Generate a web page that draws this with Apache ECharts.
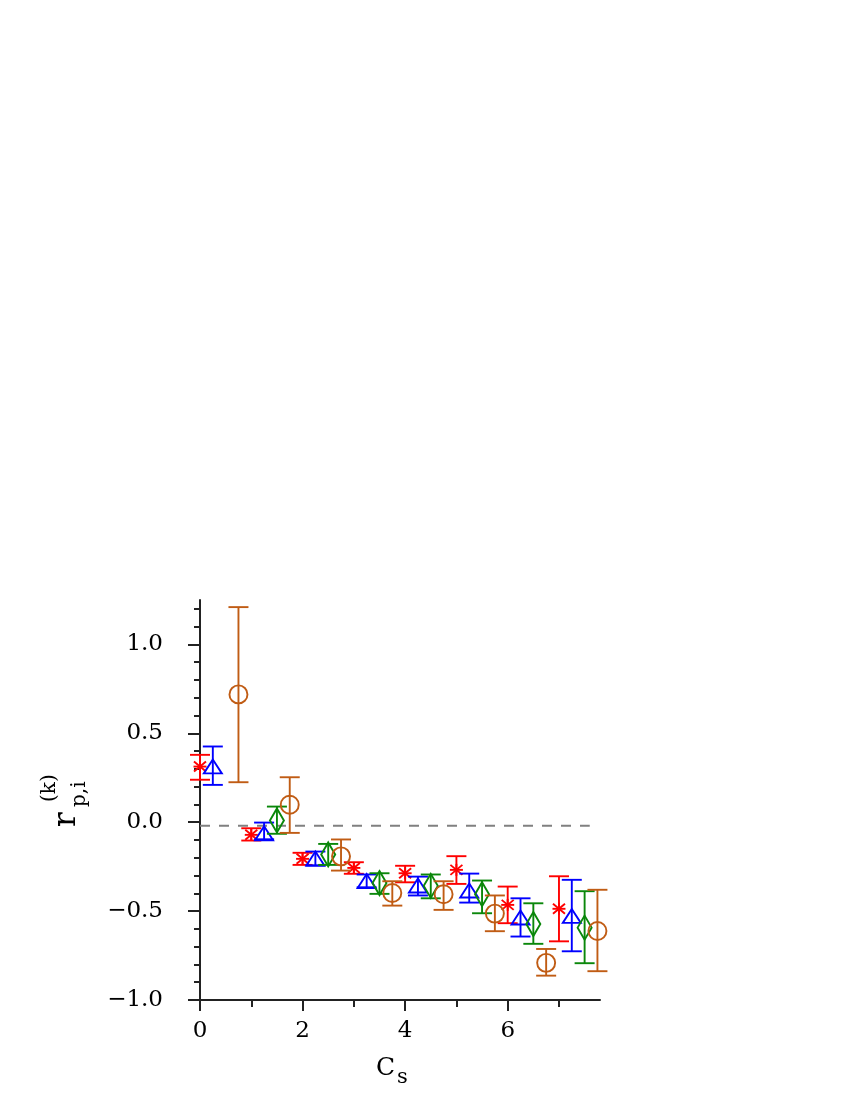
<!DOCTYPE html>
<html>
<head>
<meta charset="utf-8">
<script src="https://cdn.jsdelivr.net/npm/echarts@6/dist/echarts.min.js"></script>
<style>
html,body{margin:0;padding:0;background:#fff;}
#chart{width:850px;height:1100px;}
</style>
</head>
<body>
<div id="chart"></div>
<script>
// ---- data ----
var redX   = [0, 1, 2, 3, 4, 5, 6, 7];
var redY   = [0.313, -0.071, -0.206, -0.257, -0.287, -0.268, -0.465, -0.487];
var redHi  = [0.379, -0.034, -0.172, -0.225, -0.245, -0.191, -0.362, -0.304];
var redLo  = [0.239, -0.103, -0.240, -0.290, -0.338, -0.347, -0.568, -0.670];

var blueX  = [0.25, 1.25, 2.25, 3.25, 4.25, 5.25, 6.25, 7.25];
var blueY  = [0.314, -0.062, -0.204, -0.331, -0.356, -0.384, -0.536, -0.527];
var blueHi = [0.426, -0.002, -0.165, -0.294, -0.306, -0.289, -0.428, -0.324];
var blueLo = [0.210, -0.096, -0.244, -0.366, -0.412, -0.452, -0.643, -0.726];

var greenX  = [1.5, 2.5, 3.5, 4.5, 5.5, 6.5, 7.5];
var greenY  = [0.010, -0.181, -0.342, -0.358, -0.405, -0.573, -0.593];
var greenHi = [0.088, -0.122, -0.287, -0.294, -0.328, -0.456, -0.388];
var greenLo = [-0.065, -0.240, -0.403, -0.428, -0.512, -0.684, -0.793];

var brownX  = [0.75, 1.75, 2.75, 3.75, 4.75, 5.75, 6.75, 7.75];
var brownY  = [0.719, 0.098, -0.192, -0.398, -0.405, -0.514, -0.791, -0.612];
var brownHi = [1.210, 0.253, -0.097, -0.332, -0.332, -0.412, -0.713, -0.380];
var brownLo = [0.225, -0.060, -0.272, -0.469, -0.493, -0.613, -0.863, -0.838];

var refLineX = [0, 7.6];
var refLineY = [-0.02, -0.02];

var xMajorTicks = [0, 2, 4, 6];
var xMinorTicks = [1, 3, 5, 7];
var yMajorTicks = [-1.0, -0.5, 0.0, 0.5, 1.0];
var yMinorTicks = [-0.9, -0.8, -0.7, -0.6, -0.4, -0.3, -0.2, -0.1, 0.1, 0.2, 0.3, 0.4, 0.6, 0.7, 0.8, 0.9, 1.1, 1.2];

// ---- styling ----
var FONT = 'DejaVu Serif';
var AX = '#222';
var TXT = '#000';
var COLORS = { red: '#ff0000', blue: '#0000ff', green: '#0a870a', brown: '#c05c14' };

function rows(xs, ys, lo, hi) {
  return xs.map(function (x, i) { return [x, ys[i], lo[i], hi[i]]; });
}

function makeRender(shape, color) {
  return function (params, api) {
    var x = api.value(0), y = api.value(1), lo = api.value(2), hi = api.value(3);
    var c = api.coord([x, y]);
    var pl = api.coord([x, lo]);
    var ph = api.coord([x, hi]);
    var cap = 10;
    var st = { stroke: color, lineWidth: 1.9, fill: null };
    var kids = [
      { type: 'line', shape: { x1: ph[0], y1: ph[1], x2: pl[0], y2: pl[1] }, style: st },
      { type: 'line', shape: { x1: ph[0] - cap, y1: ph[1], x2: ph[0] + cap, y2: ph[1] }, style: st },
      { type: 'line', shape: { x1: pl[0] - cap, y1: pl[1], x2: pl[0] + cap, y2: pl[1] }, style: st }
    ];
    var cx = c[0], cy = c[1];
    if (shape === 'circle') {
      kids.push({ type: 'circle', shape: { cx: cx, cy: cy, r: 9 }, style: st });
    } else if (shape === 'triangle') {
      kids.push({ type: 'polygon', shape: { points: [[cx, cy - 7], [cx + 9, cy + 7], [cx - 9, cy + 7]] }, style: st });
    } else if (shape === 'diamond') {
      kids.push({ type: 'polygon', shape: { points: [[cx, cy - 12], [cx + 7, cy], [cx, cy + 12], [cx - 7, cy]] }, style: st });
    } else {
      kids.push({ type: 'line', shape: { x1: cx - 6.5, y1: cy, x2: cx + 6.5, y2: cy }, style: st });
      kids.push({ type: 'line', shape: { x1: cx - 6, y1: cy - 5, x2: cx + 6, y2: cy + 5 }, style: st });
      kids.push({ type: 'line', shape: { x1: cx - 6, y1: cy + 5, x2: cx + 6, y2: cy - 5 }, style: st });
      kids.push({ type: 'line', shape: { x1: cx, y1: cy - 6, x2: cx, y2: cy + 6 }, style: st });
    }
    return { type: 'group', children: kids };
  };
}

function fmt(v) {
  var s = Math.abs(v).toFixed(1);
  return (v < -1e-9 ? '\u2212' : '') + s;
}
function fmtInt(v) { return String(Math.round(v)); }

var chart = echarts.init(document.getElementById('chart'), null, { renderer: 'canvas' });

var option = {
  backgroundColor: '#ffffff',
  animation: false,
  grid: { left: 200, top: 600, width: 400, height: 400, containLabel: false },
  xAxis: [
    {
      type: 'value', min: 0, max: 7.8, position: 'bottom',
      axisLine: { show: true, onZero: false, lineStyle: { color: AX, width: 2 } },
      axisTick: { show: true, customValues: xMajorTicks, length: 11, inside: false, lineStyle: { color: AX, width: 2 } },
      axisLabel: { show: true, customValues: xMajorTicks, fontFamily: FONT, fontSize: 23, color: TXT, margin: 20, formatter: fmtInt },
      splitLine: { show: false }
    },
    {
      type: 'value', min: 0, max: 7.8, position: 'bottom', offset: 0,
      axisLine: { show: false, onZero: false },
      axisTick: { show: true, customValues: xMinorTicks, length: 7, inside: false, lineStyle: { color: AX, width: 2 } },
      axisLabel: { show: false },
      splitLine: { show: false }
    }
  ],
  yAxis: [
    {
      type: 'value', min: -1, max: 1.25, position: 'left',
      axisLine: { show: true, onZero: false, lineStyle: { color: AX, width: 2 } },
      axisTick: { show: true, customValues: yMajorTicks, length: 12, inside: false, lineStyle: { color: AX, width: 2 } },
      axisLabel: { show: true, customValues: yMajorTicks, fontFamily: FONT, fontSize: 23, color: TXT, margin: 37, formatter: fmt },
      splitLine: { show: false }
    },
    {
      type: 'value', min: -1, max: 1.25, position: 'left', offset: 0,
      axisLine: { show: false, onZero: false },
      axisTick: { show: true, customValues: yMinorTicks, length: 6, inside: false, lineStyle: { color: AX, width: 2 } },
      axisLabel: { show: false },
      splitLine: { show: false }
    }
  ],
  graphic: [
    { type: 'text', x: 376, y: 1068, style: { text: 'C', fontFamily: FONT, fontSize: 25, fill: TXT, verticalAlign: 'middle', align: 'left' } },
    { type: 'text', x: 397, y: 1078, style: { text: 's', fontFamily: FONT, fontSize: 21, fill: TXT, verticalAlign: 'middle', align: 'left' } },
    {
      type: 'group', x: 77, y: 827, rotation: Math.PI / 2,
      children: [
        { type: 'text', x: 0, y: -10, style: { text: 'r', fontFamily: FONT, fontSize: 31, fill: TXT, verticalAlign: 'middle', align: 'left' } },
        { type: 'text', x: 25, y: -27, style: { text: '(k)', fontFamily: FONT, fontSize: 20, fill: TXT, verticalAlign: 'middle', align: 'left' } },
        { type: 'text', x: 20, y: 3, style: { text: 'p,i', fontFamily: FONT, fontSize: 20, fill: TXT, verticalAlign: 'middle', align: 'left' } }
      ]
    }
  ],
  series: [
    {
      type: 'line', xAxisIndex: 0, yAxisIndex: 0, silent: true,
      data: refLineX.map(function (x, i) { return [x, refLineY[i]]; }),
      showSymbol: false, symbol: 'none',
      lineStyle: { color: '#808080', width: 2, type: [10, 9] }, z: 1
    },
    { type: 'custom', name: 'red', renderItem: makeRender('asterisk', COLORS.red), data: rows(redX, redY, redLo, redHi), encode: { x: 0, y: [1, 2, 3] }, z: 3 },
    { type: 'custom', name: 'blue', renderItem: makeRender('triangle', COLORS.blue), data: rows(blueX, blueY, blueLo, blueHi), encode: { x: 0, y: [1, 2, 3] }, z: 3 },
    { type: 'custom', name: 'green', renderItem: makeRender('diamond', COLORS.green), data: rows(greenX, greenY, greenLo, greenHi), encode: { x: 0, y: [1, 2, 3] }, z: 3 },
    { type: 'custom', name: 'brown', renderItem: makeRender('circle', COLORS.brown), data: rows(brownX, brownY, brownLo, brownHi), encode: { x: 0, y: [1, 2, 3] }, z: 3 }
  ]
};

chart.setOption(option);
</script>
</body>
</html>
